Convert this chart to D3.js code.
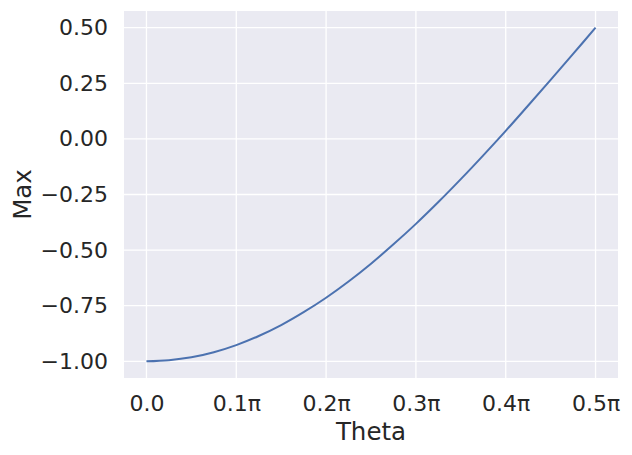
<!DOCTYPE html>
<html><head><meta charset="utf-8">
<script src="https://cdn.jsdelivr.net/npm/d3@7"></script>
<style>body{margin:0;background:#fff}svg{display:block}text{font-family:"DejaVu Sans",sans-serif;fill:#262626}</style>
</head><body>
<svg id="chart" width="632" height="455"></svg>
<script>
// theta in units of pi
const thetaPi = [0,0.025,0.05,0.075,0.1,0.125,0.15,0.175,0.2,0.225,0.25,0.275,0.3,0.325,0.35,0.375,0.4,0.425,0.45,0.475,0.5];
const maxValues = [-1.000,-0.995,-0.982,-0.959,-0.927,-0.886,-0.837,-0.779,-0.714,-0.641,-0.561,-0.474,-0.382,-0.284,-0.181,-0.074,0.036,0.150,0.265,0.382,0.500];
const xTicks = [0,0.1,0.2,0.3,0.4,0.5];
const xTickLabels = ["0.0","0.1π","0.2π","0.3π","0.4π","0.5π"];
const yTicks = [-1.0,-0.75,-0.5,-0.25,0,0.25,0.5];

const svg = d3.select("#chart");
const L=124,R=618,T=11,B=378;
const x = d3.scaleLinear().domain([-0.025,0.525]).range([L,R]);
const y = d3.scaleLinear().domain([-1.075,0.575]).range([B,T]);

svg.append("rect").attr("x",L).attr("y",T).attr("width",R-L).attr("height",B-T).attr("fill","#EAEAF2");
const g = svg.append("g");
g.selectAll(".vg").data(xTicks).join("line").attr("x1",d=>x(d)).attr("x2",d=>x(d)).attr("y1",T).attr("y2",B).attr("stroke","#fff").attr("stroke-width",1.3);
g.selectAll(".hg").data(yTicks).join("line").attr("y1",d=>y(d)).attr("y2",d=>y(d)).attr("x1",L).attr("x2",R).attr("stroke","#fff").attr("stroke-width",1.3);

const xa = svg.append("g").attr("transform",`translate(0,${B})`)
  .call(d3.axisBottom(x).tickValues(xTicks).tickFormat((d,i)=>xTickLabels[i]).tickSize(0).tickPadding(17));
const ya = svg.append("g").attr("transform",`translate(${L},0)`)
  .call(d3.axisLeft(y).tickValues(yTicks).tickFormat(d=>d3.format(".2f")(d).replace("-","−")).tickSize(0).tickPadding(16));
[xa,ya].forEach(a=>{a.select(".domain").remove();a.selectAll("text").style("font-size","22px").attr("fill","#262626").style("font-family","'DejaVu Sans',sans-serif");});

const line = d3.line().x((d,i)=>x(thetaPi[i])).y(d=>y(d)).curve(d3.curveCatmullRom);
svg.append("path").datum(maxValues).attr("d",line).attr("fill","none").attr("stroke","#4C72B0").attr("stroke-width",2);

svg.append("text").attr("x",(L+R)/2).attr("y",440).attr("text-anchor","middle").style("font-size","24.5px").text("Theta");
svg.append("text").attr("transform",`translate(31,${(T+B)/2}) rotate(-90)`).attr("text-anchor","middle").style("font-size","24.5px").text("Max");
</script>
</body></html>
